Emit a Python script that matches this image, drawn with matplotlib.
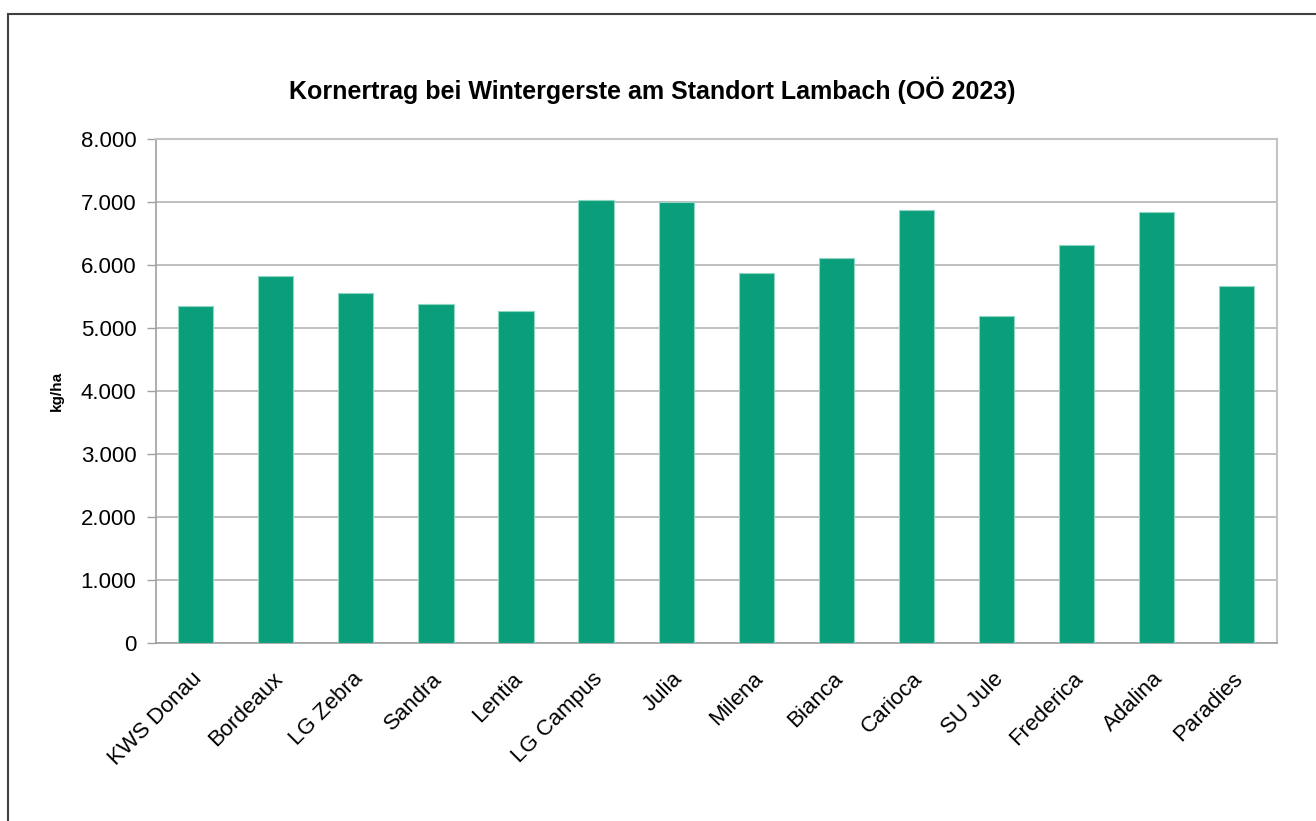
import matplotlib
matplotlib.use('Agg')
import matplotlib.pyplot as plt
from matplotlib.patches import Rectangle
from matplotlib.ticker import FuncFormatter
from matplotlib.transforms import ScaledTranslation

# Sorten und Kornertrag (kg/ha)
sorten = ['KWS Donau', 'Bordeaux', 'LG Zebra', 'Sandra', 'Lentia', 'LG Campus', 'Julia',
          'Milena', 'Bianca', 'Carioca', 'SU Jule', 'Frederica', 'Adalina', 'Paradies']
ertrag = [5350, 5830, 5550, 5390, 5270, 7030, 6995,
          5870, 6115, 6870, 5190, 6315, 6835, 5670]
y_ticks = [0, 1000, 2000, 3000, 4000, 5000, 6000, 7000, 8000]

plt.rcParams['font.family'] = ['Liberation Sans', 'DejaVu Sans']

fig = plt.figure(figsize=(13.16, 8.21), dpi=100)
ax = fig.add_axes([0.1183, 0.2164, 0.8518, 0.6143])

x = range(len(sorten))
ax.bar(x, ertrag, width=0.44, color='#0b9e7b', edgecolor='#8fd6c2', linewidth=0.8, zorder=3)

ax.set_xlim(-0.5, len(sorten) - 0.5)
ax.set_ylim(0, 8000)
ax.set_yticks(y_ticks)
ax.yaxis.set_major_formatter(FuncFormatter(lambda v, p: f"{int(v):,}".replace(',', '.')))
ax.grid(axis='y', color='#b4b4b4', linewidth=1.2, zorder=0)
ax.tick_params(axis='y', length=6.5, width=1, color='#a0a0a0', pad=7.5, labelsize=16)
ax.tick_params(axis='x', length=0, pad=18, labelsize=16)

ax.set_xticks(list(x))
ax.set_xticklabels(sorten, rotation=45, ha='right', va='top', rotation_mode='anchor')
offset = ScaledTranslation(-4 / 100, 0, fig.dpi_scale_trans)
for lab in ax.get_xticklabels():
    lab.set_transform(lab.get_transform() + offset)

for side in ['left', 'bottom']:
    ax.spines[side].set_color('#a0a0a0')
    ax.spines[side].set_linewidth(1.2)
for side in ['right', 'top']:
    ax.spines[side].set_color('#c4c4c4')
    ax.spines[side].set_linewidth(1.5)

ax.set_ylabel('kg/ha', fontsize=11, fontweight='bold', labelpad=12)

fig.text(0.4954, 0.890, 'Kornertrag bei Wintergerste am Standort Lambach (OÖ 2023)',
         ha='center', va='center', fontsize=18, fontweight='bold')

# Rahmen um das Diagramm (rechts und unten abgeschnitten)
fig.patches.append(Rectangle((8 / 1316, -0.1), 1.2, (821 - 14) / 821 + 0.1,
                             transform=fig.transFigure, fill=False,
                             edgecolor='#404040', linewidth=1.5))

plt.savefig('out.png', dpi=100)
plt.close()
